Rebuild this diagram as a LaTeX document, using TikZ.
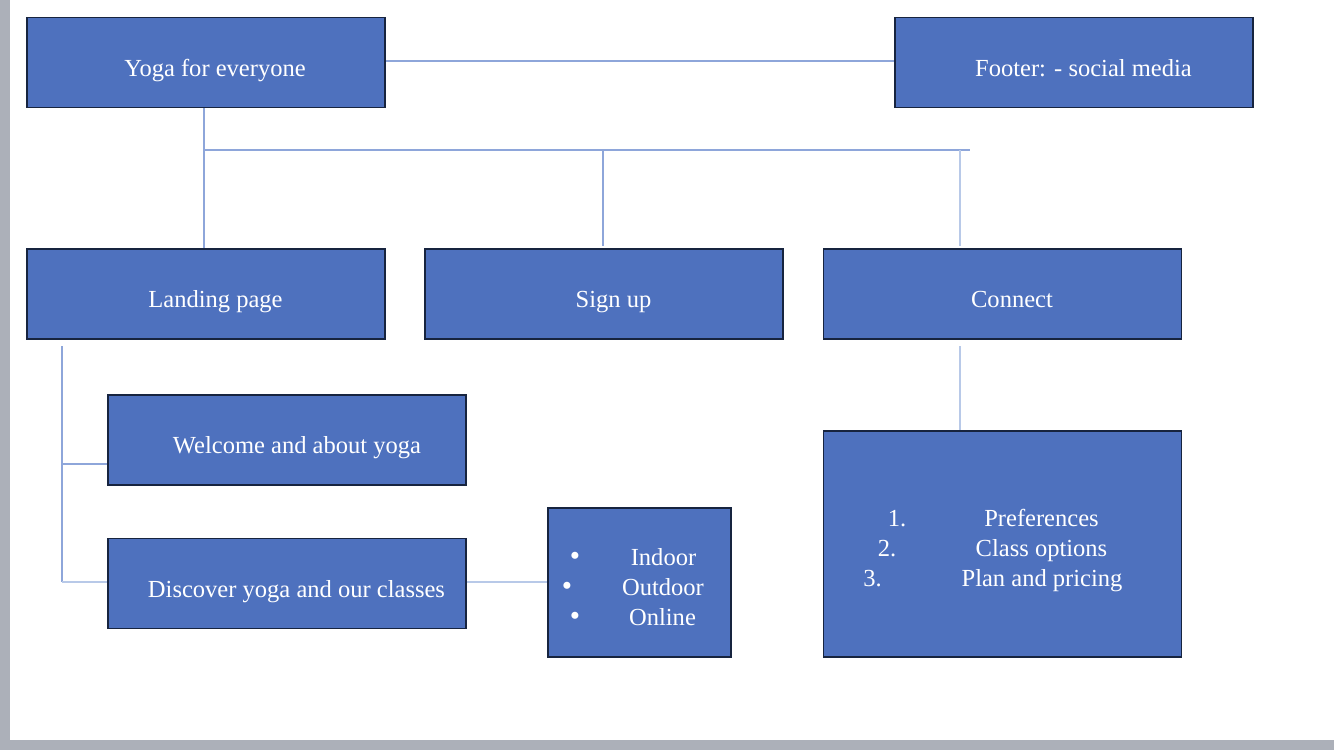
\documentclass[tikz,border=0pt]{standalone}
\usepackage{fontspec}
\setmainfont{Liberation Serif}
\definecolor{boxblue}{HTML}{4E71BE}
\definecolor{boxedge}{HTML}{17243F}
\definecolor{linkc}{HTML}{8EA6DA}
\definecolor{linklight}{HTML}{B8C9E8}
\definecolor{framegrey}{HTML}{ACB0B9}
\begin{document}
\begin{tikzpicture}[x=0.75pt,y=-0.75pt,
  box/.style={draw=boxedge, fill=boxblue, line width=1.3pt, inner sep=0pt, minimum width=268.5pt, minimum height=67.5pt},
  lbl/.style={text=white, font=\fontsize{18.4}{21}\selectfont, inner sep=0pt, anchor=base},
  bul/.style={text=white, font=\fontsize{22}{21}\selectfont, inner sep=0pt, anchor=base},
  link/.style={draw=linkc, line width=0.8pt},
  linkl/.style={draw=linklight, line width=1.1pt}]
% page
\fill[white] (0,0) rectangle (1334,750);
\useasboundingbox (0,0) rectangle (1334,750);
\fill[framegrey] (0,0) rectangle (10,750);
\fill[framegrey] (0,740) rectangle (1334,750);

% boxes
\node[box] (yoga) at (206,62.5) {};
\node[box] (footer) at (1074,62.5) {};
\node[box] (landing) at (206,294) {};
\node[box] (signup) at (604,294) {};
\node[box] (connect) at (1002.5,294) {};
\node[box] (welcome) at (287,440) {};
\node[box] (discover) at (287,583.5) {};
\node[box, minimum width=137.25pt, minimum height=111.75pt] (types) at (639.5,582.5) {};
\node[box, minimum height=169.5pt] (plans) at (1002.5,544) {};

% labels
\node[lbl] (tyoga) at (215,76) {Yoga for everyone};
\node[lbl] (tfooter) at (1083.5,76) {Footer: - social media};
\node[lbl] (tlanding) at (215.5,307) {Landing page};
\node[lbl] (tsignup) at (613.5,307) {Sign up};
\node[lbl] (tconnect) at (1012,307) {Connect};
\node[lbl] (twelcome) at (297,453) {Welcome and about yoga};
\node[lbl] (tdiscover) at (296.5,597) {Discover yoga and our classes};

\node[bul] (b1) at (575,565) {•};
\node[bul] (b2) at (567,595.7) {•};
\node[bul] (b3) at (575,625.7) {•};
\node[lbl] (t1) at (663.5,565) {Indoor};
\node[lbl] (t2) at (663,595.7) {Outdoor};
\node[lbl] (t3) at (662.5,625.7) {Online};

\node[lbl] (n1) at (897,526.7) {1.};
\node[lbl] (n2) at (887,556.7) {2.};
\node[lbl] (n3) at (872.5,586.7) {3.};
\node[lbl] (p1) at (1041.5,526.7) {Preferences};
\node[lbl] (p2) at (1041.5,556.7) {Class options};
\node[lbl] (p3) at (1042,586.7) {Plan and pricing};

% junction coordinates
\coordinate (busL) at (204,150);
\coordinate (busR) at (970,150);
\coordinate (busS) at (603,150);
\coordinate (busC) at (960,150);
\coordinate (sigTop) at (603,246);
\coordinate (conTop) at (960,246);
\coordinate (conBot) at (960,346);
\coordinate (lanBot) at (62,346);
\coordinate (lanMid) at (62,464);
\coordinate (lanEnd) at (62,582);

% connectors
\draw[link] (yoga.east |- 0,61) -- (footer.west |- 0,61);
\draw[link] (yoga.south -| busL) -- (landing.north -| busL);
\draw[link] (busL) -- (busR);
\draw[link] (busS) -- (sigTop);
\draw[linkl] (busC) -- (conTop);
\draw[linkl] (conBot) -- (plans.north -| conBot);
\draw[link] (lanBot) -- (lanEnd);
\draw[link] (lanMid) -- (welcome.west |- lanMid);
\draw[linkl] (lanEnd) -- (discover.west |- lanEnd);
\draw[linkl] (discover.east |- lanEnd) -- (types.west |- lanEnd);
\end{tikzpicture}
\end{document}
